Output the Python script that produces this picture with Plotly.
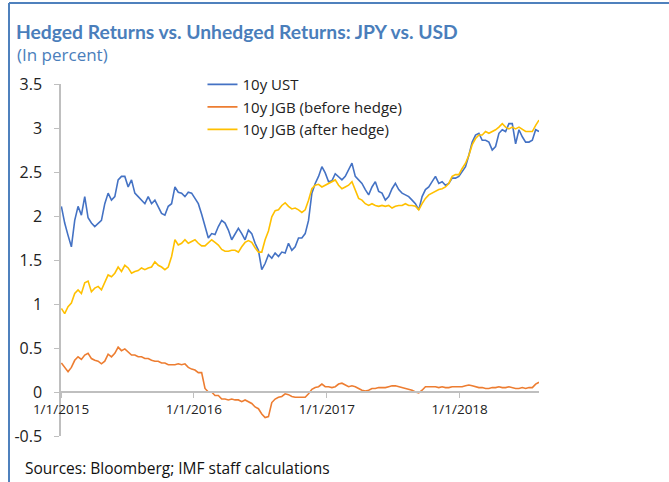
import pandas as pd
import plotly.graph_objects as go

# ---- data (percent), sampled roughly every 9 days, Jan 2015 - Aug 2018 ----
start_date = '2015-01-02'
end_date = '2018-08-07'

ust_10y = [2.11, 1.92, 1.78, 1.65, 1.95, 2.11, 2.01, 2.22, 1.98, 1.92,
           1.88, 1.92, 1.95, 2.14, 2.26, 2.18, 2.22, 2.41, 2.45, 2.45,
           2.33, 2.41, 2.26, 2.22, 2.18, 2.14, 2.22, 2.14, 2.18, 2.11,
           2.03, 2.01, 2.11, 2.14, 2.33, 2.27, 2.26, 2.22, 2.27, 2.26,
           2.20, 2.14, 2.02, 1.88, 1.75, 1.80, 1.79, 1.88, 1.95, 1.92,
           1.84, 1.73, 1.79, 1.86, 1.80, 1.73, 1.84, 1.80, 1.69, 1.61,
           1.39, 1.46, 1.56, 1.52, 1.58, 1.54, 1.59, 1.58, 1.69, 1.61,
           1.65, 1.75, 1.75, 1.80, 1.95, 2.26, 2.37, 2.45, 2.56, 2.49,
           2.39, 2.40, 2.48, 2.45, 2.41, 2.45, 2.52, 2.60, 2.45, 2.41,
           2.37, 2.30, 2.24, 2.33, 2.39, 2.28, 2.26, 2.18, 2.22, 2.31,
           2.37, 2.30, 2.26, 2.24, 2.22, 2.18, 2.14, 2.07, 2.22, 2.30,
           2.33, 2.39, 2.45, 2.37, 2.39, 2.35, 2.37, 2.43, 2.43, 2.45,
           2.50, 2.56, 2.69, 2.84, 2.92, 2.94, 2.86, 2.86, 2.84, 2.75,
           2.79, 2.94, 2.98, 2.96, 3.05, 3.05, 2.82, 2.98, 2.90, 2.84,
           2.84, 2.86, 2.98, 2.96]

jgb_before = [0.33, 0.28, 0.23, 0.28, 0.36, 0.40, 0.37, 0.42, 0.44, 0.38,
              0.36, 0.35, 0.32, 0.35, 0.43, 0.40, 0.44, 0.51, 0.47, 0.49,
              0.46, 0.42, 0.42, 0.40, 0.40, 0.38, 0.38, 0.36, 0.35, 0.35,
              0.33, 0.33, 0.31, 0.31, 0.31, 0.32, 0.31, 0.32, 0.28, 0.26,
              0.25, 0.22, 0.22, 0.04, 0.00, 0.00, -0.04, -0.04, -0.08, -0.08,
              -0.09, -0.08, -0.09, -0.09, -0.11, -0.09, -0.11, -0.13, -0.17, -0.19,
              -0.25, -0.29, -0.28, -0.12, -0.08, -0.06, -0.05, -0.02, -0.03, -0.05,
              -0.06, -0.06, -0.06, -0.06, -0.02, 0.03, 0.05, 0.06, 0.09, 0.06,
              0.06, 0.05, 0.06, 0.09, 0.10, 0.08, 0.06, 0.07, 0.06, 0.04,
              0.02, 0.01, 0.02, 0.04, 0.04, 0.05, 0.05, 0.05, 0.06, 0.07,
              0.07, 0.06, 0.05, 0.04, 0.03, 0.02, 0.00, -0.01, 0.02, 0.06,
              0.06, 0.06, 0.06, 0.05, 0.06, 0.05, 0.05, 0.06, 0.06, 0.06,
              0.06, 0.07, 0.08, 0.07, 0.06, 0.05, 0.05, 0.04, 0.04, 0.05,
              0.05, 0.06, 0.05, 0.05, 0.06, 0.05, 0.04, 0.04, 0.05, 0.04,
              0.05, 0.05, 0.09, 0.11]

jgb_after = [0.95, 0.89, 0.97, 1.01, 1.12, 1.16, 1.12, 1.24, 1.26, 1.14,
             1.18, 1.20, 1.16, 1.24, 1.33, 1.31, 1.35, 1.42, 1.37, 1.44,
             1.41, 1.35, 1.37, 1.38, 1.41, 1.39, 1.41, 1.42, 1.48, 1.44,
             1.42, 1.39, 1.42, 1.54, 1.73, 1.67, 1.69, 1.73, 1.69, 1.71,
             1.73, 1.69, 1.66, 1.66, 1.70, 1.73, 1.70, 1.67, 1.62, 1.60,
             1.60, 1.61, 1.61, 1.59, 1.65, 1.70, 1.72, 1.70, 1.64, 1.59,
             1.59, 1.73, 1.83, 1.99, 2.06, 2.07, 2.12, 2.15, 2.11, 2.08,
             2.09, 2.07, 2.04, 2.07, 2.18, 2.31, 2.35, 2.36, 2.33, 2.35,
             2.37, 2.39, 2.41, 2.35, 2.31, 2.33, 2.35, 2.39, 2.30, 2.20,
             2.18, 2.14, 2.12, 2.14, 2.12, 2.11, 2.12, 2.11, 2.12, 2.09,
             2.11, 2.12, 2.12, 2.14, 2.12, 2.12, 2.11, 2.07, 2.14, 2.20,
             2.24, 2.26, 2.28, 2.30, 2.31, 2.33, 2.37, 2.45, 2.47, 2.47,
             2.54, 2.60, 2.69, 2.81, 2.88, 2.92, 2.92, 2.96, 2.94, 2.96,
             2.98, 3.01, 3.05, 3.01, 2.99, 3.01, 2.99, 3.01, 2.98, 2.96,
             2.96, 2.96, 3.03, 3.09]

series_names = ['10y UST', '10y JGB (before hedge)', '10y JGB (after hedge)']
series_colors = ['#4472C4', '#ED7D31', '#FFC000']

x_tickvals = ['2015-01-01', '2016-01-01', '2017-01-01', '2018-01-01']
x_ticktext = ['1/1/2015', '1/1/2016', '1/1/2017', '1/1/2018']
y_tickvals = [-0.5, 0, 0.5, 1, 1.5, 2, 2.5, 3, 3.5]
y_ticktext = ['-0.5', '0', '0.5', '1', '1.5', '2', '2.5', '3', '3.5']

title_text = '<b>Hedged Returns vs. Unhedged Returns: JPY vs. USD</b>'
subtitle_text = '(In percent)'
source_text = 'Sources: Bloomberg; IMF staff calculations'

dates = pd.date_range(start_date, end_date, periods=len(ust_10y))

FONT = 'Open Sans'
BLUE_TXT = '#4A7EBB'
AXIS_GREY = '#BFBFBF'
FRAME_BLUE = '#4F81BD'


def px_x(px):
    # page pixel -> paper fraction (plot area spans x 61..539)
    return (px - 61) / 478


def px_y(py):
    # page pixel -> paper fraction (plot area spans y 84..436)
    return (436 - py) / 352


fig = go.Figure()
for name, values, color in zip(series_names, [ust_10y, jgb_before, jgb_after], series_colors):
    fig.add_trace(go.Scatter(x=dates, y=values, name=name, mode='lines',
                             line=dict(color=color, width=1.6)))

fig.update_layout(
    width=669, height=482,
    margin=dict(l=61, r=130, t=84, b=46),
    paper_bgcolor='white', plot_bgcolor='white',
    font=dict(family=FONT, size=14, color='#222222'),
    showlegend=True,
    legend=dict(x=0.296, y=1.045, xanchor='left', yanchor='top',
                bgcolor='rgba(0,0,0,0)', font=dict(size=15, color='#222222'),
                tracegroupgap=0, itemwidth=30),
    title=dict(text=title_text, x=16 / 669, xanchor='left', xref='container',
               y=1 - 32 / 482, yanchor='middle', yref='container',
               font=dict(family='Lato', size=19.3, color=BLUE_TXT)),
    # frame lines at the top and left of the exhibit
    shapes=[
        dict(type='line', xref='paper', yref='paper', x0=px_x(9), x1=px_x(669),
             y0=px_y(3), y1=px_y(3), line=dict(color=FRAME_BLUE, width=2)),
        dict(type='line', xref='paper', yref='paper', x0=px_x(9), x1=px_x(9),
             y0=px_y(3), y1=px_y(482), line=dict(color=FRAME_BLUE, width=2)),
    ],
    annotations=[
        dict(text=subtitle_text, xref='paper', yref='paper', x=px_x(15), y=px_y(54),
             xanchor='left', yanchor='middle', showarrow=False,
             font=dict(size=17, color=BLUE_TXT)),
        dict(text=source_text, xref='paper', yref='paper', x=px_x(23), y=px_y(468),
             xanchor='left', yanchor='middle', showarrow=False,
             font=dict(size=15.5, color='#111111')),
    ],
)

fig.update_xaxes(
    type='date', range=[dates[0] - pd.Timedelta(days=1), dates[-1]],
    anchor='free', position=0.125,
    tickvals=x_tickvals, ticktext=x_ticktext,
    showline=True, linecolor=AXIS_GREY, linewidth=1.5,
    ticks='outside', ticklen=5, tickcolor=AXIS_GREY,
    ticklabelstandoff=0,
    showgrid=False, zeroline=False,
    tickfont=dict(size=13.5, color='#222222'),
)
fig.update_yaxes(
    range=[-0.5, 3.5], tickvals=y_tickvals, ticktext=y_ticktext,
    showline=True, linecolor=AXIS_GREY, linewidth=1.5,
    ticks='outside', ticklen=5, tickcolor=AXIS_GREY,
    ticklabelstandoff=9,
    showgrid=False, zeroline=False,
    tickfont=dict(size=16, color='#222222'),
)

# the page body has a default 8px margin; drop it so the figure sits at the corner
fig.write_html("out.html", config={'displayModeBar': False},
               post_script="document.body.style.margin='0';")
